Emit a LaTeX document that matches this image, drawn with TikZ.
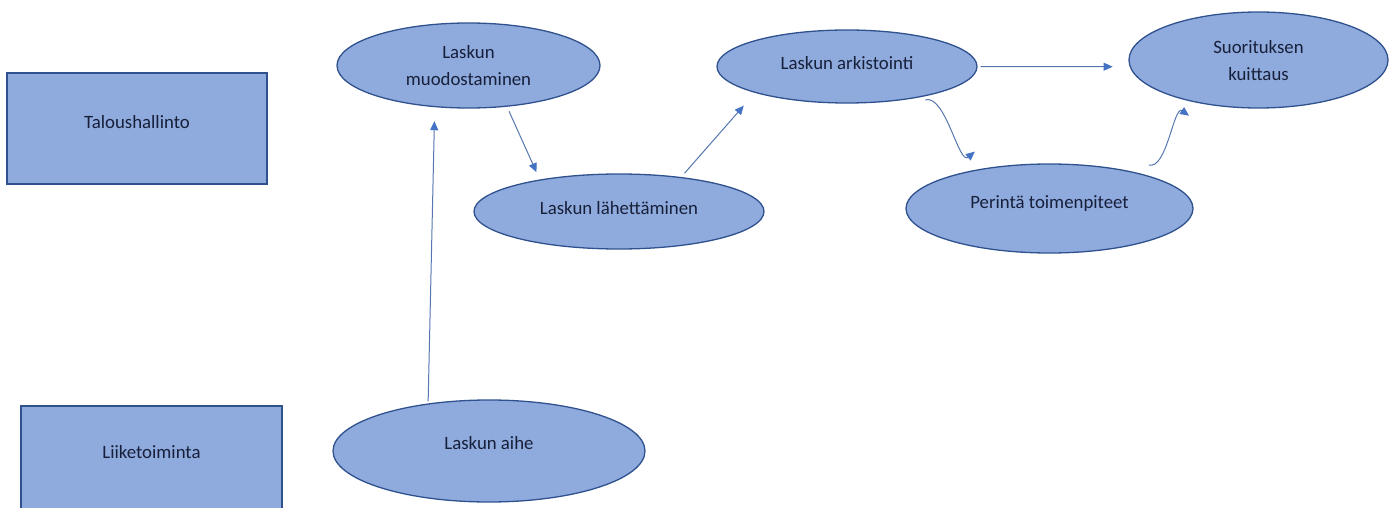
\documentclass[tikz,border=0pt]{standalone}
\usepackage{fontspec}
\setmainfont{Carlito}
\usepackage{tikz}
\usetikzlibrary{shapes.geometric}
\usetikzlibrary{arrows.meta}
\definecolor{lightfill}{HTML}{8FAADC}
\definecolor{darkedge}{HTML}{2F528F}
\definecolor{arrowc}{HTML}{4472C4}
\definecolor{textc}{HTML}{17203A}
\tikzset{
    box/.style={draw=darkedge, line width=1.3pt, fill=lightfill, text=textc, inner sep=0pt, font=\fontsize{18.8}{27}\selectfont},
    proc/.style={ellipse, draw=darkedge, line width=1.3pt, fill=lightfill, text=textc, inner sep=0pt, align=center, font=\fontsize{18.8}{27}\selectfont},
    arr/.style={-{Triangle[length=9pt,width=8pt,color=arrowc]}, draw=arrowc!70!gray, line width=1pt}
}

\begin{document}
\begin{tikzpicture}[x=1pt,y=-1pt]
\clip (0,0) rectangle (1395,508);
\node[box, minimum width=260pt, minimum height=111pt, text depth=13pt] (talous) at (137,128.5) {Taloushallinto};
\node[box, minimum width=261pt, minimum height=112pt, text depth=20pt] (liike) at (151.5,462) {Liiketoiminta};
\foreach \n/\x/\y/\w/\h/\d/\t in {muod/468.5/65.5/263/85/0pt/{Laskun\\muodostaminen}, laeh/619/211.5/290/75/7pt/{Laskun lähettäminen}, ark/847/66.5/260/73/7pt/{Laskun arkistointi}, per/1049.5/208.5/287/89/13pt/{Perintä toimenpiteet}, suor/1258.5/60/259/96/0pt/{Suorituksen\\kuittaus}, aihe/489/451/312/102/16pt/{Laskun aihe}}{
    \node[proc, minimum width=\w pt, minimum height=\h pt, text depth=\d] (\n) at (\x,\y) {\t};
}
\coordinate (arkout) at ([shift={(8,2)}]ark.-24);
\coordinate (perin) at ([shift={(-21,-15)}]per.142);
\coordinate (perout) at ([shift={(19,-6)}]per.25);
\coordinate (suorin) at ([shift={(-18,11)}]suor.221);
\draw[arr, shorten <=2pt, shorten >=14pt] (aihe.142) -- (muod.231);
\draw[arr, shorten <=5pt, shorten >=8pt] (muod.-47) -- (laeh.158);
\draw[arr, shorten <=5pt, shorten >=17pt] (laeh.29) -- (ark.196);
\draw[arr, shorten <=3pt, shorten >=17pt] (ark.east) -- (suor.183);
\draw[arr] (arkout) to[out=15, in=-140, looseness=0.75] (perin);
\draw[arr] (perout) to[out=-15, in=145, looseness=0.75] (suorin);
\end{tikzpicture}
\end{document}
